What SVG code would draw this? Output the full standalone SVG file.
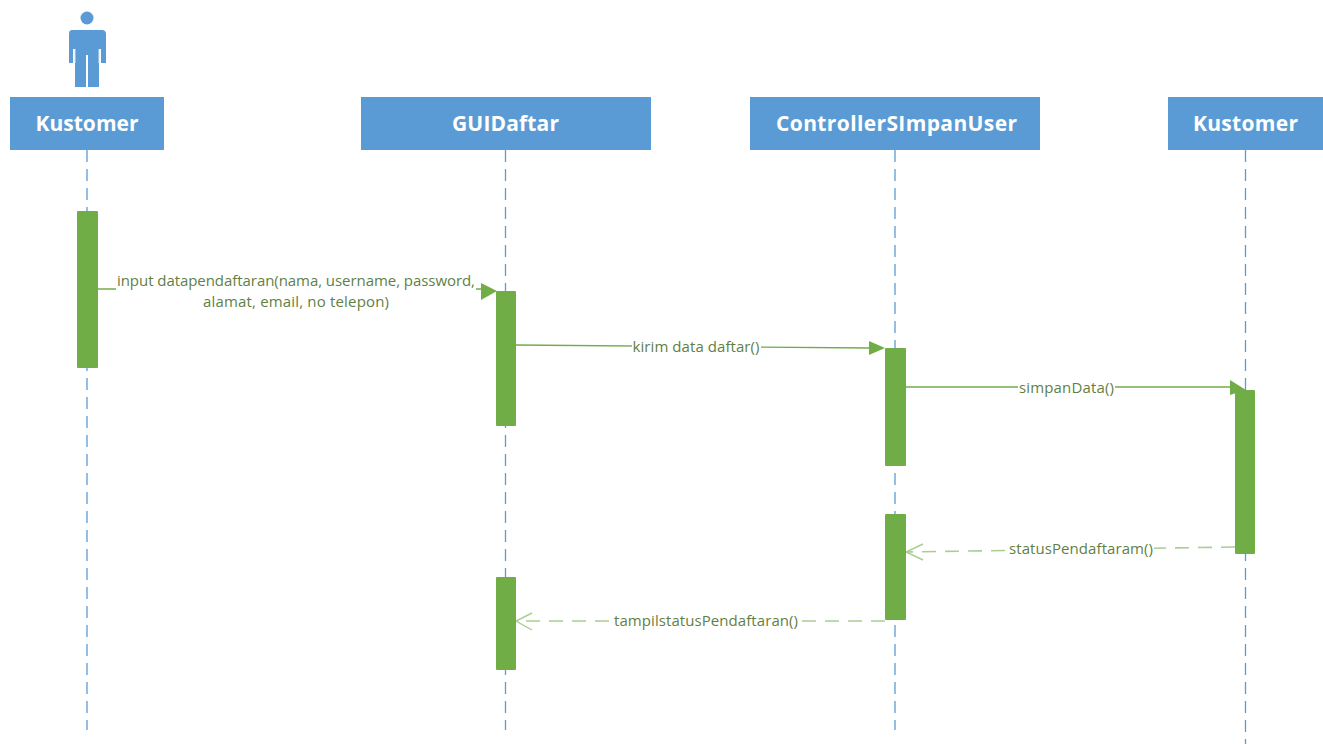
<svg xmlns="http://www.w3.org/2000/svg" width="1323" height="744" viewBox="0 0 1323 744">
<style>
.head{fill:#5b9bd5}
.ht{font:bold 21px "Open Sans","Noto Sans","DejaVu Sans",sans-serif;fill:#fff;text-anchor:middle}
.life{stroke:#5b9bd5;stroke-width:1.3;stroke-dasharray:12 7;fill:none}
.bar{fill:#70ad47}
.msg{stroke:#70ad47;stroke-width:1.4;fill:none}
.ret{stroke:#a9ce91;stroke-width:1.6;fill:none;stroke-dasharray:14 9}
.open{stroke:#a9ce91;stroke-width:1.4;fill:none}
.arr{fill:#70ad47}
.lbl{font:15px "Open Sans","Noto Sans","DejaVu Sans",sans-serif;fill:#5f7f45;text-anchor:middle}
.bg{fill:#fff}
.slit{stroke:#d5e4f3;stroke-width:1;fill:none}
</style>
<rect width="1323" height="744" fill="#fff"/>
<g id="connectors">
<path class="life" d="M87 150V730"/>
<path class="life" d="M505.500 150V730"/>
<path class="life" d="M895 150V730"/>
<path class="life" d="M1245.500 150V744"/>
<path class="msg" d="M98 289H482"/>
<path class="arr" d="M481 283L497 291L481 300Z"/>
<path class="msg" d="M516 345L870 348"/>
<path class="arr" d="M869 341L885 348L869 355Z"/>
<path class="msg" d="M906 387H1231"/>
<path class="arr" d="M1230 380L1246 390L1230 395Z"/>
<path class="ret" d="M1235 547L906 552"/>
<path class="open" d="M923 544L906 552L923 560"/>
<path class="ret" d="M885 621H516"/>
<path class="open" d="M532 613L516 621L532 630"/>
<g>
<rect class="bg" x="116" y="272" width="360" height="40"/>
<text class="lbl" x="296" y="286" textLength="358">input datapendaftaran(nama, username, password,</text>
<text class="lbl" x="296" y="307" textLength="186">alamat, email, no telepon)</text>
</g>
<g>
<rect class="bg" x="632" y="338" width="129" height="18"/>
<text class="lbl" x="696" y="352" textLength="127">kirim data daftar()</text>
</g>
<g>
<rect class="bg" x="1018" y="379" width="97" height="18"/>
<text class="lbl" x="1066.500" y="393" textLength="95">simpanData()</text>
</g>
<g>
<rect class="bg" x="1008" y="540" width="146" height="18"/>
<text class="lbl" x="1081" y="554" textLength="144">statusPendaftaram()</text>
</g>
<g>
<rect class="bg" x="612" y="612" width="188" height="18"/>
<text class="lbl" x="706" y="626" textLength="184">tampilstatusPendaftaran()</text>
</g>
</g>
<g id="actor">
<circle cx="87" cy="18" r="6.500" class="head"/>
<path class="head" d="M72 30H102Q106 30 106 34V63H101V49H99V87H88V55H86V87H75V49H73V63H69V34Q69 30 72 30Z"/>
<path class="slit" d="M75 49V63M99 49V63"/>
</g>
<g id="node-kustomer1">
<rect class="head" x="10" y="97" width="154" height="53"/>
<text class="ht" x="87" y="131" textLength="103">Kustomer</text>
</g>
<g id="node-guidaftar">
<rect class="head" x="361" y="97" width="290" height="53"/>
<text class="ht" x="505.500" y="131" textLength="107">GUIDaftar</text>
</g>
<g id="node-controller">
<rect class="head" x="750" y="97" width="290" height="53"/>
<text class="ht" x="896.500" y="131" textLength="241">ControllerSImpanUser</text>
</g>
<g id="node-kustomer2">
<rect class="head" x="1168" y="97" width="155" height="53"/>
<text class="ht" x="1245.500" y="131" textLength="105">Kustomer</text>
</g>
<g id="activations">
<rect class="bar" x="77" y="211" width="21" height="157" rx="1"/>
<rect class="bar" x="496" y="291" width="20" height="135" rx="1"/>
<rect class="bar" x="885" y="348" width="21" height="118" rx="1"/>
<rect class="bar" x="1235" y="390" width="20" height="164" rx="1"/>
<rect class="bar" x="885" y="514" width="21" height="106" rx="1"/>
<rect class="bar" x="496" y="577" width="20" height="93" rx="1"/>
</g>
</svg>
